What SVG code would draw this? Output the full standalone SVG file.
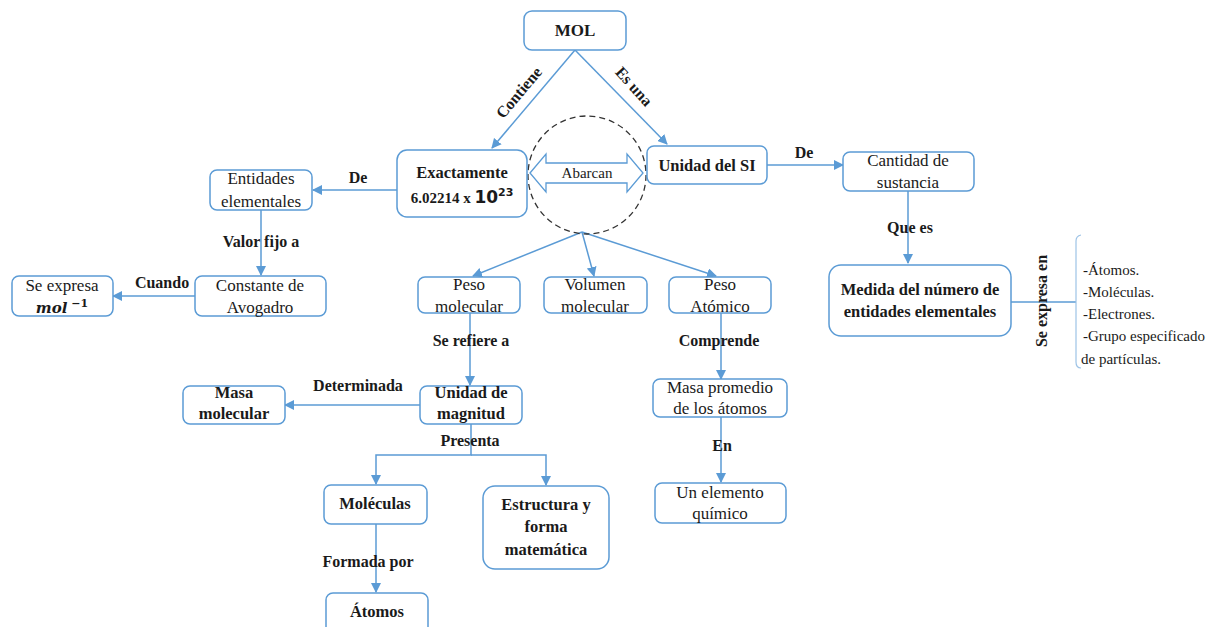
<svg xmlns="http://www.w3.org/2000/svg" width="1211" height="627" viewBox="0 0 1211 627" font-family="Liberation Serif, serif">
<style>
.box{fill:#fff;stroke:#5b9bd5;stroke-width:1.5}
.ln{fill:none;stroke:#5b9bd5;stroke-width:1.5}
.t{fill:#1a1a1a;text-anchor:middle}
.n{font-size:17px}
.b{font-weight:bold;font-size:16.5px}
.lb{font-size:16px;font-weight:bold;fill:#1a1a1a;text-anchor:middle}
.li{font-size:15px;fill:#1a1a1a}
</style>
<defs>
<marker id="ah" viewBox="0 0 10 10" refX="9" refY="5" markerWidth="10" markerHeight="10" markerUnits="userSpaceOnUse" orient="auto">
<path d="M0,0 L10,5 L0,10 z" fill="#5b9bd5"/>
</marker>
</defs>
<rect width="1211" height="627" fill="#fff"/>
<g id="connectors">
<line class="ln" x1="575" y1="50" x2="492" y2="148" marker-end="url(#ah)"/>
<line class="ln" x1="575" y1="50" x2="667" y2="144" marker-end="url(#ah)"/>
<line class="ln" x1="767" y1="165" x2="843" y2="165" marker-end="url(#ah)"/>
<line class="ln" x1="908" y1="191" x2="908" y2="263" marker-end="url(#ah)"/>
<line class="ln" x1="1011" y1="302" x2="1076" y2="302"/>
<path d="M1081,235 Q1076,236 1076,241 V362 Q1076,368 1081,368" fill="none" stroke="#9dc3e6" stroke-width="1.2"/>
<line class="ln" x1="397" y1="190" x2="313" y2="190" marker-end="url(#ah)"/>
<line class="ln" x1="261" y1="210" x2="261" y2="275" marker-end="url(#ah)"/>
<line class="ln" x1="195" y1="296" x2="113" y2="296" marker-end="url(#ah)"/>
<line class="ln" x1="582" y1="232" x2="473" y2="276" marker-end="url(#ah)"/>
<line class="ln" x1="582" y1="232" x2="594" y2="276" marker-end="url(#ah)"/>
<line class="ln" x1="582" y1="232" x2="716" y2="276" marker-end="url(#ah)"/>
<line class="ln" x1="470" y1="313" x2="470" y2="385" marker-end="url(#ah)"/>
<line class="ln" x1="721" y1="313" x2="721" y2="379" marker-end="url(#ah)"/>
<line class="ln" x1="721" y1="417" x2="721" y2="482" marker-end="url(#ah)"/>
<line class="ln" x1="420" y1="405" x2="285" y2="405" marker-end="url(#ah)"/>
<path class="ln" d="M471,424 V455 H376 V484" marker-end="url(#ah)"/>
<path class="ln" d="M471,455 H546 V485" marker-end="url(#ah)"/>
<line class="ln" x1="376" y1="524" x2="376" y2="592" marker-end="url(#ah)"/>
</g>
<g id="abarcan">
<circle cx="587" cy="175" r="59" fill="none" stroke="#333" stroke-width="1.3" stroke-dasharray="6,4"/>
<polygon points="530,173 546,154 546,163 627,163 627,154 643,173 627,192 627,183 546,183 546,192" fill="#fff" stroke="#5b9bd5" stroke-width="1.3"/>
<text class="t" x="587" y="178" font-size="15">Abarcan</text>
</g>
<g id="mol"><rect class="box" x="524" y="11" width="102" height="39" rx="8"/><text class="t" x="575" y="36" font-size="17" font-weight="bold">MOL</text></g>
<g id="exactamente"><rect class="box" x="397" y="150" width="130" height="67" rx="10"/>
<text class="t b" x="462" y="178">Exactamente</text>
<text class="t" x="462" y="203" font-size="15" font-weight="bold">6.02214 x <tspan font-family="DejaVu Sans, sans-serif" font-size="17">10</tspan><tspan font-family="DejaVu Sans, sans-serif" font-size="11" dy="-7">23</tspan></text></g>
<g id="unidad-si"><rect class="box" x="647" y="146" width="120" height="38" rx="7"/><text class="t b" x="707" y="171">Unidad del SI</text></g>
<g id="cantidad"><rect class="box" x="843" y="152" width="131" height="39" rx="7"/><text class="t n" x="908" y="166">Cantidad de</text><text class="t n" x="908" y="188">sustancia</text></g>
<g id="medida"><rect class="box" x="829" y="265" width="182" height="71" rx="12"/><text class="t b" x="920" y="295">Medida del número de</text><text class="t b" x="920" y="317">entidades elementales</text></g>
<g id="lista">
<text class="li" x="1083" y="275">-Átomos.</text>
<text class="li" x="1083" y="297">-Moléculas.</text>
<text class="li" x="1083" y="319">-Electrones.</text>
<text class="li" x="1083" y="341">-Grupo especificado</text>
<text class="li" x="1081" y="364">de partículas.</text>
</g>
<g id="entidades"><rect class="box" x="210" y="170" width="102" height="40" rx="7"/><text class="t n" x="261" y="184">Entidades</text><text class="t n" x="261" y="207">elementales</text></g>
<g id="constante"><rect class="box" x="195" y="276" width="131" height="40" rx="7"/><text class="t n" x="260" y="291">Constante de</text><text class="t n" x="260" y="313">Avogadro</text></g>
<g id="se-expresa"><rect class="box" x="12" y="276" width="101" height="40" rx="7"/><text class="t n" x="62" y="291">Se expresa</text><text x="62" y="313" text-anchor="middle" fill="#1a1a1a" font-family="DejaVu Serif, serif" font-style="italic" font-weight="bold" font-size="15">mol<tspan font-style="normal" font-size="11" dy="-6"> −1</tspan></text></g>
<g id="peso-molecular"><rect class="box" x="418" y="277" width="102" height="36" rx="7"/><text class="t n" x="469" y="290">Peso</text><text class="t n" x="469" y="312">molecular</text></g>
<g id="volumen"><rect class="box" x="544" y="277" width="103" height="36" rx="7"/><text class="t n" x="595" y="290">Volumen</text><text class="t n" x="595" y="312">molecular</text></g>
<g id="peso-atomico"><rect class="box" x="669" y="277" width="102" height="36" rx="7"/><text class="t n" x="720" y="290">Peso</text><text class="t n" x="720" y="312">Atómico</text></g>
<g id="unidad-magnitud"><rect class="box" x="420" y="386" width="102" height="38" rx="7"/><text class="t b" x="471" y="398">Unidad de</text><text class="t b" x="471" y="419">magnitud</text></g>
<g id="masa-molecular"><rect class="box" x="183" y="386" width="102" height="38" rx="7"/><text class="t b" x="234" y="398">Masa</text><text class="t b" x="234" y="419">molecular</text></g>
<g id="masa-promedio"><rect class="box" x="653" y="379" width="134" height="38" rx="7"/><text class="t n" x="720" y="393">Masa promedio</text><text class="t n" x="720" y="414">de los átomos</text></g>
<g id="elemento"><rect class="box" x="655" y="483" width="131" height="40" rx="7"/><text class="t n" x="720" y="498">Un elemento</text><text class="t n" x="720" y="519">químico</text></g>
<g id="moleculas"><rect class="box" x="324" y="485" width="103" height="39" rx="7"/><text class="t b" x="375" y="509">Moléculas</text></g>
<g id="estructura"><rect class="box" x="483" y="486" width="126" height="83" rx="12"/><text class="t b" x="546" y="510">Estructura y</text><text class="t b" x="546" y="532">forma</text><text class="t b" x="546" y="555">matemática</text></g>
<g id="atomos"><rect class="box" x="326" y="593" width="102" height="45" rx="7"/><text class="t b" x="377" y="617">Átomos</text></g>
<g id="labels">
<text class="lb" transform="translate(523,96) rotate(-50)">Contiene</text>
<text class="lb" transform="translate(630,90) rotate(48)">Es una</text>
<text class="lb" x="804" y="158">De</text>
<text class="lb" x="910" y="233">Que es</text>
<text class="lb" transform="translate(1047,301) rotate(-90)">Se expresa en</text>
<text class="lb" x="358" y="183">De</text>
<text class="lb" x="261" y="247">Valor fijo a</text>
<text class="lb" x="162" y="288">Cuando</text>
<text class="lb" x="471" y="346">Se refiere a</text>
<text class="lb" x="719" y="346">Comprende</text>
<text class="lb" x="358" y="391">Determinada</text>
<text class="lb" x="470" y="446">Presenta</text>
<text class="lb" x="722" y="451">En</text>
<text class="lb" x="368" y="567">Formada por</text>
</g>
</svg>
